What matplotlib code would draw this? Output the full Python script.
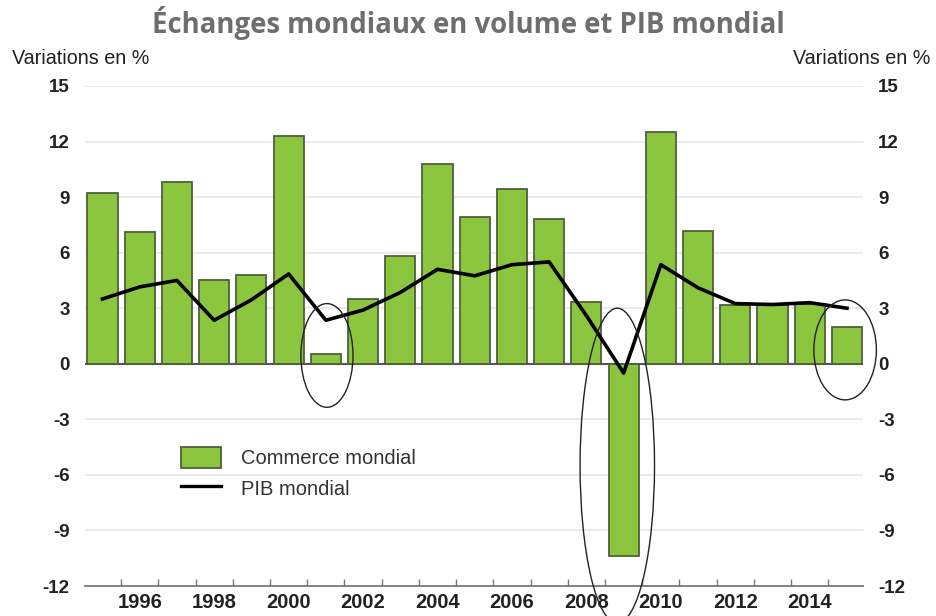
import numpy as np
import matplotlib
matplotlib.use('Agg')
import matplotlib.pyplot as plt
from matplotlib.patches import Ellipse, Patch
from matplotlib.lines import Line2D

years = list(range(1995, 2016))
commerce = [9.2, 7.1, 9.8, 4.5, 4.8, 12.3, 0.55, 3.5, 5.8, 10.8, 7.9,
            9.45, 7.8, 3.35, -10.4, 12.5, 7.15, 3.2, 3.2, 3.25, 2.0]
pib = [3.5, 4.15, 4.5, 2.35, 3.45, 4.85, 2.35, 2.9, 3.85, 5.1, 4.75,
       5.35, 5.5, 2.6, -0.5, 5.35, 4.1, 3.25, 3.2, 3.3, 3.0]
yticks = [-12, -9, -6, -3, 0, 3, 6, 9, 12, 15]
xlabels = [1996, 1998, 2000, 2002, 2004, 2006, 2008, 2010, 2012, 2014]

bar_color = '#8cc63f'
edge_color = '#4e5f3c'
txt_color = '#222222'

fig = plt.figure(figsize=(9.37, 6.16), dpi=100)
ax = fig.add_axes([0.0907, 0.0487, 0.8303, 0.8117])

for y in yticks:
    if y not in (0, -12):
        ax.axhline(y, color='#e6e6e6', lw=1.2, zorder=0)
ax.axhline(0, color='#555555', lw=1.5, zorder=1)

ax.bar(years, commerce, width=0.81, color=bar_color, edgecolor=edge_color,
       linewidth=1.3, zorder=2)
ax.plot(years, pib, color='black', lw=2.6, zorder=3)

ax.set_xlim(1994.53, 2015.43)
ax.set_ylim(-12, 15)

# y axes on both sides, no tick marks
ax.set_yticks(yticks)
ax.set_yticklabels([str(v) for v in yticks], fontweight='bold', fontsize=13.5,
                   color=txt_color, family='Liberation Sans')
ax.tick_params(axis='y', length=0, pad=11, labelright=True, labelleft=True)

ax.set_xticks(xlabels)
ax.set_xticklabels([str(v) for v in xlabels], fontweight='bold', fontsize=14.5,
                   color=txt_color, family='Liberation Sans')
ax.set_xticks(np.arange(1995.5, 2015, 1), minor=True)
ax.tick_params(axis='x', which='major', length=0, pad=5)
ax.tick_params(axis='x', which='minor', direction='in', length=5,
               color='#777777', width=1)

for s in ['top', 'left', 'right']:
    ax.spines[s].set_visible(False)
ax.spines['bottom'].set_color('#777777')
ax.spines['bottom'].set_linewidth(1.3)

# hand drawn circles
for (cx, cy, w, h) in [(2001.03, 0.45, 1.4, 5.6),
                       (2008.83, -5.5, 2.0, 17.0),
                       (2014.95, 0.75, 1.68, 5.4)]:
    ax.add_patch(Ellipse((cx, cy), w, h, fill=False, edgecolor='#222222',
                         lw=1.0, zorder=4, clip_on=False))

handles = [Patch(facecolor=bar_color, edgecolor=edge_color, lw=1.3),
           Line2D([0], [0], color='black', lw=2.4)]
leg = ax.legend(handles, ['Commerce mondial', 'PIB mondial'],
                loc='upper left', bbox_to_anchor=(0.1, 0.315), frameon=False,
                prop={'family': 'Liberation Sans', 'size': 14.5},
                handlelength=2.0, handleheight=1.25, handletextpad=1.0,
                labelspacing=0.45)
for t in leg.get_texts():
    t.set_color('#333333')

fig.text(0.013, 0.905, 'Variations en %', fontsize=14.2, color=txt_color,
         family='Liberation Sans', ha='left', va='center')
fig.text(0.993, 0.905, 'Variations en %', fontsize=14.2, color=txt_color,
         family='Liberation Sans', ha='right', va='center')
fig.text(0.5, 0.962, 'Échanges mondiaux en volume et PIB mondial',
         fontsize=19.8, fontweight='bold', color='#6e6e6e', family='Open Sans',
         ha='center', va='center')

fig.savefig('out.png', dpi=100)
